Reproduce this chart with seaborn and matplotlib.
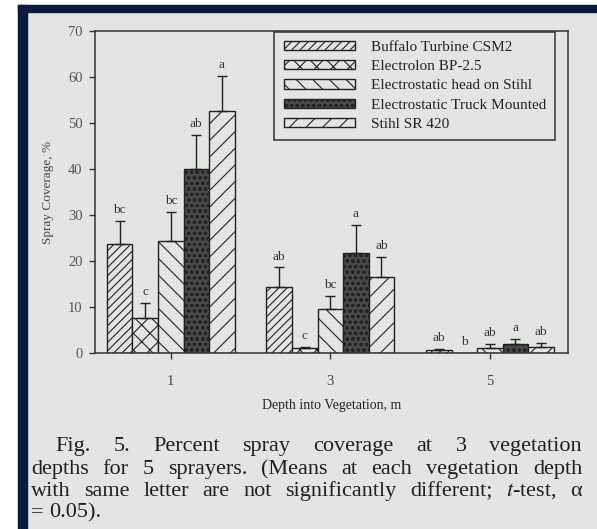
import numpy as np
import pandas as pd
import seaborn as sns
import matplotlib.pyplot as plt
from matplotlib.patches import Rectangle

# values (mean spray coverage, %, and upper error)
depths = ['1', '3', '5']
sprayers = ['Buffalo Turbine CSM2', 'Electrolon BP-2.5', 'Electrostatic head on Stihl',
            'Electrostatic Truck Mounted', 'Stihl SR 420']
buffalo = [23.6, 14.4, 0.6]
electrolon = [7.6, 1.0, 0.0]
head = [24.4, 9.5, 1.1]
truck = [40.0, 21.7, 1.9]
stihl = [52.6, 16.6, 1.3]
buffalo_err = [5.1, 4.2, 0.2]
electrolon_err = [3.3, 0.3, 0.0]
head_err = [6.3, 3.0, 0.9]
truck_err = [7.5, 6.1, 1.2]
stihl_err = [7.7, 4.3, 0.8]
buffalo_lab = ['bc', 'ab', 'ab']
electrolon_lab = ['c', 'c', 'b']
head_lab = ['bc', 'bc', 'ab']
truck_lab = ['ab', 'a', 'a']
stihl_lab = ['a', 'ab', 'ab']

caption = ['Fig. 5. Percent spray coverage at 3 vegetation',
           'depths for 5 sprayers. (Means at each vegetation depth',
           'with same letter are not significantly different; $t$-test, α',
           '= 0.05).']

values = [buffalo, electrolon, head, truck, stihl]
errors = [buffalo_err, electrolon_err, head_err, truck_err, stihl_err]
letters = [buffalo_lab, electrolon_lab, head_lab, truck_lab, stihl_lab]

df = pd.DataFrame([(d, s, v[i]) for s, v in zip(sprayers, values)
                   for i, d in enumerate(depths)],
                  columns=['depth', 'sprayer', 'coverage'])

paper = '#e3e5e2'
ink = '#333333'
W, H = 597, 529

sns.set_style('ticks')
plt.rcParams['font.family'] = ['Liberation Serif', 'DejaVu Serif']
plt.rcParams['mathtext.fontset'] = 'stix'
plt.rcParams['hatch.linewidth'] = 0.8

fig = plt.figure(figsize=(W / 100, H / 100), dpi=100, facecolor=paper)
# photo frame: white margin + navy border
fig.add_artist(Rectangle((0, 0), 18 / W, 1, transform=fig.transFigure, color='white', zorder=-5))
fig.add_artist(Rectangle((0, 1 - 5 / H), 1, 5 / H, transform=fig.transFigure, color='white', zorder=-5))
fig.add_artist(Rectangle((18 / W, 0), 9 / W, 1 - 5 / H, transform=fig.transFigure, color='#0b1a3d', zorder=-4))
fig.add_artist(Rectangle((18 / W, 1 - 12 / H), 1, 7 / H, transform=fig.transFigure, color='#0b1a3d', zorder=-4))

ax = fig.add_axes([95 / W, 1 - 353 / H, (568 - 95) / W, (353 - 31) / H])
ax.set_facecolor(paper)

sns.barplot(data=df, x='depth', y='coverage', hue='sprayer', order=depths,
            hue_order=sprayers, width=0.8, errorbar=None, palette=[paper] * 5,
            edgecolor='#222222', linewidth=1.0, saturation=1, ax=ax, legend=False)

hatches = ['////', 'xx', '\\\\', 'ooo', '//']
faces = [paper, paper, paper, '#4a4a4a', paper]
for cont, h, fc, errs, labs in zip(ax.containers, hatches, faces, errors, letters):
    for bar, e, lab in zip(cont, errs, labs):
        bar.set_hatch(h)
        bar.set_facecolor(fc)
        x = bar.get_x() + bar.get_width() / 2
        y = bar.get_height()
        if e > 0:
            ax.errorbar(x, y, yerr=[[0], [e]], fmt='none', ecolor='#222222',
                        elinewidth=1.0, capsize=3.5, capthick=1.0)
        ax.annotate(lab, (x, y + e), xytext=(0, 3.5), textcoords='offset points',
                    ha='center', va='bottom', fontsize=9.5, color=ink)

ax.set_xlim(-0.475, 2.49)
ax.set_ylim(0, 70)
ax.set_yticks(range(0, 71, 10))
for sp in ax.spines.values():
    sp.set_visible(True)
    sp.set_color(ink)
    sp.set_linewidth(1.1)
ax.tick_params(axis='y', length=4, width=1, color=ink, labelsize=10.5, labelcolor='#555555', pad=5)
ax.tick_params(axis='x', length=4, width=1, color=ink, labelsize=10.5, labelcolor='#444444', pad=12)
ax.set_xlabel('Depth into Vegetation, m', fontsize=10, color='#222222', labelpad=8)
ax.set_ylabel('Spray Coverage, %', fontsize=9.5, color='#444444', labelpad=10)

leg = ax.legend(ax.containers, sprayers, loc='upper right',
                bbox_to_anchor=(555 / W, 1 - 32 / H), bbox_transform=fig.transFigure,
                borderaxespad=0, fontsize=11, frameon=True, fancybox=False,
                handlelength=4.7, handleheight=0.55, handletextpad=1.0,
                labelspacing=0.4, borderpad=0.6, labelcolor='#222222')
leg.get_frame().set_edgecolor(ink)
leg.get_frame().set_linewidth(1.1)
leg.get_frame().set_facecolor(paper)
leg.get_frame().set_alpha(1)


def justify(text, base_y, x0, x1, fs, full=True):
    words = text.split()
    items = [fig.text(0, 1 - base_y / H, w, fontsize=fs, color='#1f1f1f', va='baseline')
             for w in words]
    r = fig.canvas.get_renderer()
    widths = [t.get_window_extent(r).width for t in items]
    if full and len(words) > 1:
        gap = (x1 - x0 - sum(widths)) / (len(words) - 1)
    else:
        gap = fs * 100 / 72 * 0.25
    x = x0
    for t, w in zip(items, widths):
        t.set_x(x / W)
        x += w + gap


justify(caption[0], 451, 55, 582, 16)
justify(caption[1], 474, 31, 582, 16)
justify(caption[2], 496, 31, 582, 16)
justify(caption[3], 517, 31, 582, 16, full=False)

fig.savefig('out.png', dpi=100, facecolor=paper)
